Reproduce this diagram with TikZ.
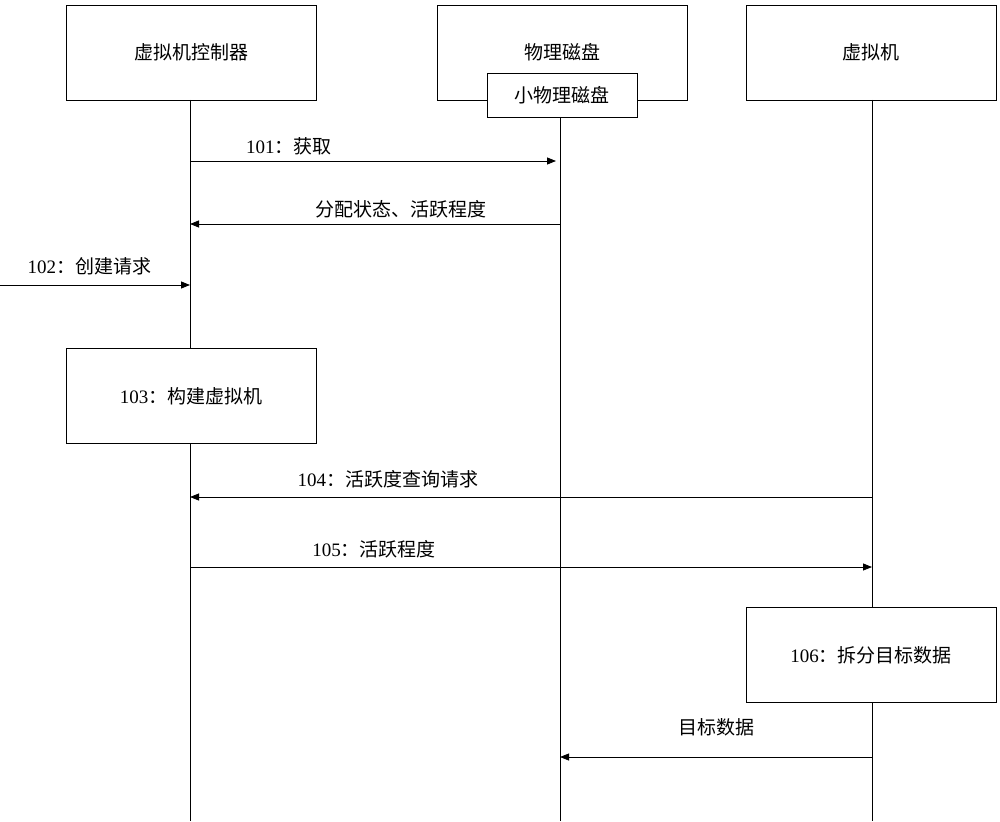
\documentclass[tikz,border=0pt]{standalone}
\usepackage{fontspec}
\setmainfont{Liberation Serif}
\newfontfamily\cjk{Noto Sans CJK SC}
\usetikzlibrary{arrows.meta}
\begin{document}
\begin{tikzpicture}[x=1pt,y=-1pt,
  box/.style={draw,line width=0.8pt,minimum width=250pt,minimum height=95pt,font=\fontsize{19}{22}\selectfont},
  lbl/.style={font=\fontsize{19}{22}\selectfont,inner sep=1pt},
  life/.style={line width=0.8pt},
  msg/.style={line width=0.8pt,-{Triangle[length=9pt,width=7pt]}}]
\useasboundingbox (0,0) rectangle (1000,821);
\node[box] (vmc) at (191,52.5) {{\cjk 虚拟机控制器}};
\node[box] (pd) at (562,52.5) {{\cjk 物理磁盘}};
\node[box] (vm) at (871,52.5) {{\cjk 虚拟机}};
\node[draw,fill=white,line width=0.8pt,minimum width=150pt,minimum height=44pt,font=\fontsize{19}{22}\selectfont] (spd) at (562,95) {{\cjk 小物理磁盘}};
\coordinate (l1) at (190,821); \coordinate (l2) at (560,821); \coordinate (l3) at (872,821);
\coordinate (t1) at (190,100); \coordinate (t2) at (560,117); \coordinate (t3) at (872,100);
\draw[life] (t1) -- (l1); \draw[life] (t2) -- (l2); \draw[life] (t3) -- (l3);
\node[box,fill=white] (b103) at (191,396) {103{\cjk ：构建虚拟机}};
\node[box,fill=white] (b106) at (871,655) {106{\cjk ：拆分目标数据}};
\coordinate (a1) at (190,161); \coordinate (a1e) at (556,161);
\draw[msg] (a1) -- (a1e) node[lbl,pos=0.27,above=5pt] {101{\cjk ：获取}};
\coordinate (a2) at (560,224); \coordinate (a2e) at (190,224);
\draw[msg] (a2) -- (a2e) node[lbl,pos=0.43,above=5pt] {{\cjk 分配状态、活跃程度}};
\coordinate (a3) at (0,285); \coordinate (a3e) at (190,285);
\draw[msg] (a3) -- (a3e) node[lbl,pos=0.47,above=9pt] {102{\cjk ：创建请求}};
\coordinate (a4) at (872,497); \coordinate (a4e) at (190,497);
\draw[msg] (a4) -- (a4e) node[lbl,pos=0.71,above=8pt] {104{\cjk ：活跃度查询请求}};
\coordinate (a5) at (190,567); \coordinate (a5e) at (872,567);
\draw[msg] (a5) -- (a5e) node[lbl,pos=0.27,above=8pt] {105{\cjk ：活跃程度}};
\coordinate (a6) at (872,757); \coordinate (a6e) at (560,757);
\draw[msg] (a6) -- (a6e) node[lbl,pos=0.5,above=20pt] {{\cjk 目标数据}};
\end{tikzpicture}
\end{document}
